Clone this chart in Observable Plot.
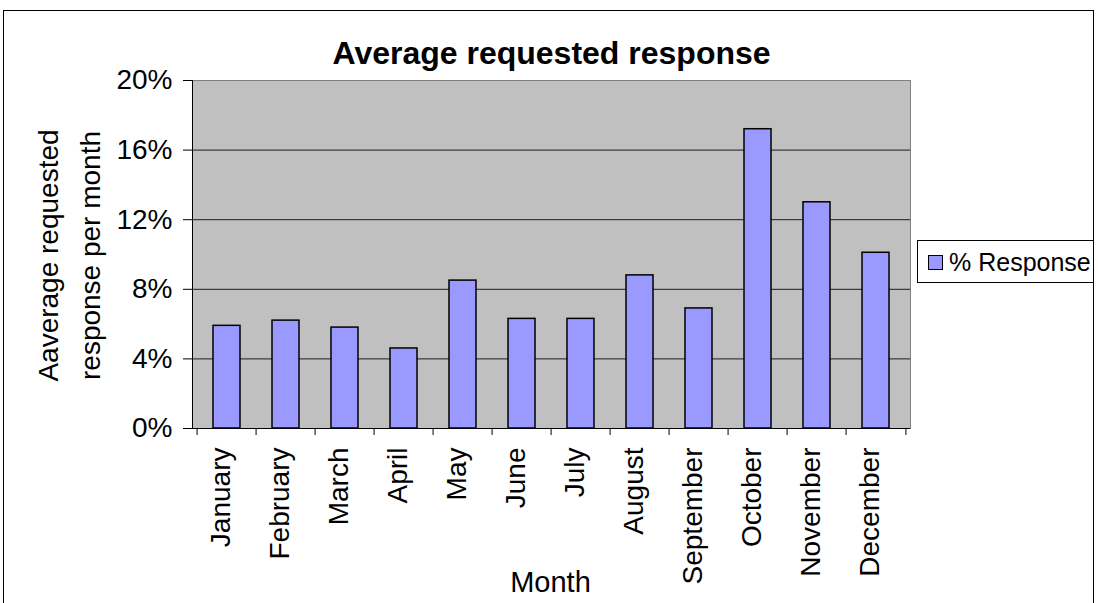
<!DOCTYPE html>
<html>
<head>
<meta charset="utf-8">
<script src="https://cdn.jsdelivr.net/npm/d3@7"></script>
<script src="https://cdn.jsdelivr.net/npm/@observablehq/plot@0.6"></script>
<style>
  html, body { margin: 0; padding: 0; background: #fff; }
  #page { position: relative; width: 1098px; height: 603px; overflow: hidden; font-family: "Liberation Sans", Arial, sans-serif; }
  #chart { position: absolute; left: 0; top: 0; }
  #border { position: absolute; left: 3px; top: 10px; width: 1089px; height: 700px; border: 1px solid #000; overflow: hidden; pointer-events: none; }
  #legend { position: absolute; left: 913px; top: 229px; width: 220px; height: 41px; border: 1px solid #000; background: #fff; }
  #legend .swatch { position: absolute; left: 10px; top: 14px; width: 13px; height: 13px; border: 1.5px solid #000; background: #9999ff; }
  #legend .label { position: absolute; left: 31px; top: 6px; font-size: 25px; line-height: 30px; color: #000; white-space: nowrap; }
</style>
</head>
<body>
<div id="page">
  <div id="chart"></div>
  <div id="border">
    <div id="legend"><div class="swatch"></div><div class="label"></div></div>
  </div>
</div>
<script>
// Monthly average requested response
const months = ["January", "February", "March", "April", "May", "June",
                "July", "August", "September", "October", "November", "December"];
const responseRate = [0.059, 0.062, 0.058, 0.046, 0.085, 0.063,
                      0.063, 0.088, 0.069, 0.172, 0.130, 0.101];
const yTicks = [0, 0.04, 0.08, 0.12, 0.16, 0.20];
const gridTicks = [0.04, 0.08, 0.12, 0.16];
const seriesName = "% Response";
const chartTitle = "Average requested response";
const xTitle = "Month";
const yTitle = "Aaverage requested\nresponse per month";

const data = months.map((month, i) => ({month, value: responseRate[i]}));

const W = 1098, H = 603;
const mL = 192, mR = 188, mT = 80, mB = 175;
const frameH = H - mT - mB;
const step = (W - mL - mR) / months.length;

const chart = Plot.plot({
  width: W,
  height: H,
  marginLeft: mL,
  marginRight: mR,
  marginTop: mT,
  marginBottom: mB,
  style: {fontFamily: "'Liberation Sans', Arial, sans-serif", background: "transparent", color: "#000", overflow: "visible"},
  x: {domain: months, paddingInner: 0.55, paddingOuter: 0.275, label: null, axis: null},
  y: {domain: [0, 0.2], label: null},
  marks: [
    // plot area
    Plot.frame({fill: "#c0c0c0", stroke: "#808080"}),
    Plot.gridY(gridTicks, {stroke: "#000", strokeOpacity: 0.85}),
    Plot.barY(data, {x: "month", y: "value", fill: "#9999ff", stroke: "#000", strokeWidth: 1.5}),
    // axis lines
    Plot.ruleY([0], {stroke: "#000"}),
    Plot.frame({anchor: "left", stroke: "#000"}),
    // y axis
    Plot.axisY(yTicks, {tickFormat: d3.format(".0%"), tickSize: 9, tickPadding: 11, fontSize: 28, label: null}),
    // x axis: rotated month names, tick marks on category boundaries
    Plot.text(months, {x: d => d, frameAnchor: "bottom", rotate: -90, textAnchor: "end", lineAnchor: "middle", dx: -6, dy: 19, fontSize: 28}),
    Plot.ruleX(months, {x: d => d, dx: -step / 2, insetTop: frameH, insetBottom: -7, stroke: "#000"}),
    Plot.ruleX(months.slice(-1), {x: d => d, dx: step / 2, insetTop: frameH, insetBottom: -7, stroke: "#000"}),
    // titles
    Plot.text([chartTitle], {frameAnchor: "top", dy: -17, lineAnchor: "bottom", fontSize: 32, fontWeight: "bold"}),
    Plot.text([xTitle], {frameAnchor: "bottom", dx: -1, dy: 163, lineAnchor: "bottom", fontSize: 29}),
    Plot.text([yTitle], {frameAnchor: "left", textAnchor: "middle", dx: -127, dy: 1, rotate: -90, lineAnchor: "middle", lineHeight: 1.5, fontSize: 28})
  ]
});

document.getElementById("chart").appendChild(chart);
document.querySelector("#legend .label").textContent = seriesName;
</script>
</body>
</html>
